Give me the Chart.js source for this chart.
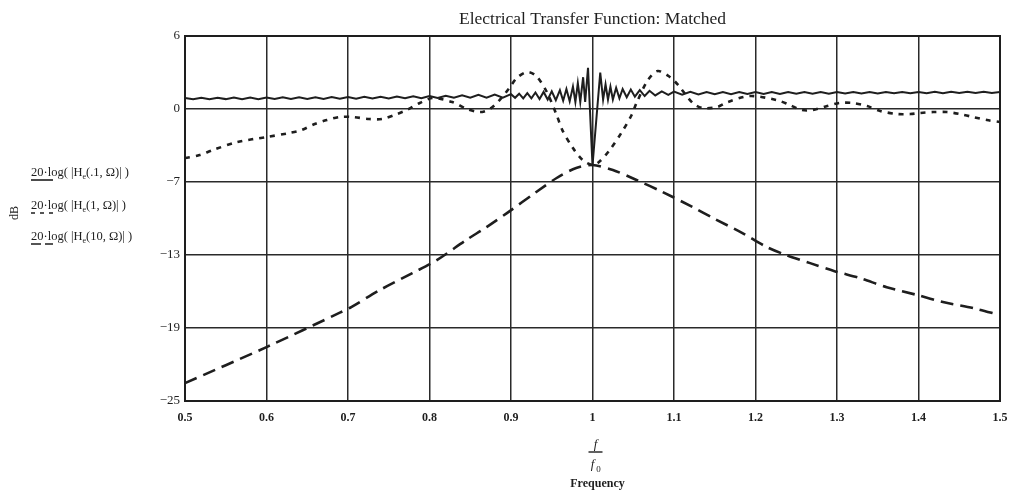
<!DOCTYPE html>
<html>
<head>
<meta charset="utf-8">
<script src="https://cdn.jsdelivr.net/npm/chart.js@4.4.0/dist/chart.umd.min.js"></script>
<style>
  html, body { margin: 0; padding: 0; background: #fff; }
  #wrap { width: 1010px; height: 492px; }
</style>
</head>
<body>
<div id="wrap"><canvas id="grafico"></canvas></div>
<script>
// valores (f/f0, dB)
var xTickValues = [0.5, 0.6, 0.7, 0.8, 0.9, 1.0, 1.1, 1.2, 1.3, 1.4, 1.5];
var xTickLabels = ["0.5", "0.6", "0.7", "0.8", "0.9", "1", "1.1", "1.2", "1.3", "1.4", "1.5"];
var yTickValues = [-25, -18.8, -12.6, -6.4, -0.2, 6];
var yTickLabels = ["\u221225", "\u221219", "\u221213", "\u22127", "0", "6"];

// 20log|He(.1,f)|  - linha cheia
var solidF = [0.50, 0.51, 0.52, 0.53, 0.54, 0.55, 0.56, 0.57, 0.58, 0.59,
  0.60, 0.61, 0.62, 0.63, 0.64, 0.65, 0.66, 0.67, 0.68, 0.69,
  0.70, 0.71, 0.72, 0.73, 0.74, 0.75, 0.76, 0.77, 0.78, 0.79,
  0.80, 0.81, 0.82, 0.83, 0.84, 0.85, 0.86, 0.87, 0.88, 0.89,
  0.90, 0.905, 0.91, 0.915, 0.92, 0.925, 0.93, 0.935, 0.94, 0.945,
  0.95, 0.955, 0.96, 0.964, 0.968, 0.972, 0.976, 0.979, 0.982, 0.985,
  0.9885, 0.991, 0.9945, 1.0, 1.0095, 1.013, 1.016, 1.019, 1.022, 1.025,
  1.029, 1.033, 1.037, 1.042, 1.047, 1.052, 1.058, 1.064, 1.07, 1.077,
  1.085, 1.093, 1.10, 1.11, 1.12, 1.13, 1.14, 1.15, 1.16, 1.17,
  1.18, 1.19, 1.20, 1.21, 1.22, 1.23, 1.24, 1.25, 1.26, 1.27,
  1.28, 1.29, 1.30, 1.31, 1.32, 1.33, 1.34, 1.35, 1.36, 1.37,
  1.38, 1.39, 1.40, 1.41, 1.42, 1.43, 1.44, 1.45, 1.46, 1.47,
  1.48, 1.49, 1.50];
var solidDb = [0.74, 0.62, 0.76, 0.63, 0.76, 0.64, 0.77, 0.63, 0.78, 0.64,
  0.78, 0.65, 0.79, 0.65, 0.79, 0.66, 0.80, 0.66, 0.81, 0.67,
  0.82, 0.68, 0.83, 0.69, 0.84, 0.70, 0.86, 0.71, 0.88, 0.72,
  0.90, 0.74, 0.93, 0.75, 0.96, 0.75, 1.00, 0.76, 1.03, 0.76,
  1.06, 0.75, 1.10, 0.70, 1.15, 0.70, 1.20, 0.65, 1.25, 0.60,
  1.30, 0.55, 1.40, 0.50, 1.50, 0.45, 1.70, 0.40, 2.00, 0.40,
  2.50, 0.40, 3.30, -5.00, 2.90, 0.60, 1.90, 0.60, 1.70, 0.60,
  1.60, 0.70, 1.50, 0.80, 1.45, 0.85, 1.40, 0.90, 1.35, 0.95,
  1.30, 1.00, 1.28, 1.02, 1.26, 1.04, 1.25, 1.05, 1.24, 1.06,
  1.24, 1.07, 1.24, 1.08, 1.24, 1.08, 1.24, 1.09, 1.24, 1.10,
  1.24, 1.10, 1.25, 1.11, 1.25, 1.12, 1.25, 1.12, 1.25, 1.13,
  1.25, 1.13, 1.25, 1.14, 1.26, 1.14, 1.26, 1.15, 1.26, 1.15,
  1.26, 1.16, 1.24];

// 20log|He(1,f)|  - pontilhado
var dottedF = [0.5, 0.518, 0.534, 0.564, 0.6, 0.628, 0.643, 0.659, 0.674, 0.69,
  0.706, 0.726, 0.742, 0.76, 0.772, 0.788, 0.804, 0.828, 0.846, 0.862,
  0.874, 0.886, 0.898, 0.907, 0.92, 0.931, 0.944, 0.956, 0.963, 0.976,
  0.988, 1.0, 1.008, 1.021, 1.036, 1.048, 1.054, 1.068, 1.08, 1.095,
  1.105, 1.123, 1.135, 1.153, 1.166, 1.193, 1.226, 1.242, 1.257, 1.27,
  1.288, 1.303, 1.319, 1.337, 1.353, 1.374, 1.39, 1.402, 1.418, 1.435,
  1.451, 1.467, 1.484, 1.5];
var dottedDb = [-4.37, -4.11, -3.69, -3.01, -2.58, -2.24, -1.99, -1.48, -1.14, -0.88,
  -0.88, -1.05, -1.05, -0.63, -0.29, 0.31, 0.73, 0.39, -0.2, -0.46,
  -0.2, 0.56, 1.58, 2.43, 2.94, 2.6, 1.24, -0.71, -1.99, -3.52,
  -4.54, -4.96, -4.7, -3.69, -2.16, -0.71, 0.31, 2.26, 3.03, 2.52,
  1.84, 0.31, -0.12, -0.03, 0.39, 0.9, 0.56, 0.14, -0.29, -0.29,
  0.05, 0.31, 0.31, 0.05, -0.37, -0.63, -0.63, -0.54, -0.46, -0.46,
  -0.63, -0.88, -1.14, -1.31];

// 20log|He(10,f)|  - tracejado
var dashedF = [0.5, 0.6, 0.69, 0.704, 0.739, 0.779, 0.809, 0.845, 0.87, 0.895,
  0.931, 0.956, 0.98, 1.0, 1.025, 1.054, 1.086, 1.123, 1.148, 1.184,
  1.214, 1.238, 1.267, 1.297, 1.328, 1.361, 1.399, 1.43, 1.467, 1.5];
var dashedDb = [-23.48, -20.42, -17.5, -17.02, -15.58, -14.14, -13.03, -11.33, -10.23, -9.04,
  -7.25, -6.06, -5.21, -4.96, -5.38, -6.23, -7.25, -8.53, -9.46, -10.74,
  -11.93, -12.61, -13.29, -13.97, -14.56, -15.33, -16.01, -16.6, -17.11, -17.7];

function pares(fs, dbs) {
  return fs.map((f, i) => ({ x: f, y: dbs[i] }));
}

var corTraco = "#1e1e1e";
var serif = '"Liberation Serif", "DejaVu Serif", serif';

// textos: titulo, legendas do eixo y e titulo do eixo x, moldura
const textosPlugin = {
  id: "textos",
  afterDraw(chart) {
    const ctx = chart.ctx;
    const area = chart.chartArea;
    ctx.save();
    ctx.fillStyle = corTraco;
    ctx.strokeStyle = corTraco;

    ctx.lineWidth = 2;
    ctx.strokeRect(area.left, area.top, area.right - area.left, area.bottom - area.top);

    ctx.font = "17.5px " + serif;
    ctx.textAlign = "center";
    ctx.textBaseline = "alphabetic";
    ctx.fillText("Electrical Transfer Function: Matched", (area.left + area.right) / 2, 24);

    // legendas
    var legendas = [
      { p: ".1", y: 176, dash: [] },
      { p: "1", y: 209, dash: [4, 5] },
      { p: "10", y: 240, dash: [10, 4] }
    ];
    legendas.forEach((l) => {
      var x = 31;
      ctx.textAlign = "left";
      ctx.font = "12.5px " + serif;
      var a = "20\u00B7log( |H";
      ctx.fillText(a, x, l.y);
      x += ctx.measureText(a).width;
      ctx.font = "8px " + serif;
      ctx.fillText("e", x, l.y + 3);
      x += ctx.measureText("e").width;
      ctx.font = "12.5px " + serif;
      ctx.fillText("(" + l.p + ", \u03A9)| )", x, l.y);
      ctx.lineWidth = 1.6;
      ctx.setLineDash(l.dash);
      ctx.beginPath();
      ctx.moveTo(31, l.y + 4);
      ctx.lineTo(53, l.y + 4);
      ctx.stroke();
      ctx.setLineDash([]);
    });

    ctx.save();
    ctx.translate(18, 213);
    ctx.rotate(-Math.PI / 2);
    ctx.textAlign = "center";
    ctx.font = "12px " + serif;
    ctx.fillText("dB", 0, 0);
    ctx.restore();

    // f / f0
    var cx = chart.scales.x.getPixelForValue(1.0) + 3;
    ctx.textAlign = "center";
    ctx.font = "italic 13px " + serif;
    ctx.fillText("f", cx, 448);
    ctx.lineWidth = 1.4;
    ctx.beginPath();
    ctx.moveTo(cx - 7, 452);
    ctx.lineTo(cx + 7, 452);
    ctx.stroke();
    ctx.fillText("f", cx - 3, 468);
    ctx.font = "9px " + serif;
    ctx.fillText("0", cx + 3, 472);
    ctx.font = "bold 12px " + serif;
    ctx.fillText("Frequency", cx + 2, 487);
    ctx.restore();
  }
};

const ctx = document.getElementById("grafico").getContext("2d");
let grafico = new Chart(ctx, {
  type: "line",
  data: {
    datasets: [
      {
        label: "20log|He(.1,f)|",
        data: pares(solidF, solidDb),
        borderColor: corTraco,
        borderWidth: 2,
        pointRadius: 0,
        tension: 0,
      },
      {
        label: "20log|He(1,f)|",
        data: pares(dottedF, dottedDb),
        borderColor: corTraco,
        borderWidth: 2.6,
        borderDash: [5, 6],
        pointRadius: 0,
        tension: 0.3,
      },
      {
        label: "20log|He(10,f)|",
        data: pares(dashedF, dashedDb),
        borderColor: corTraco,
        borderWidth: 2.6,
        borderDash: [13, 7],
        pointRadius: 0,
        tension: 0.3,
      },
    ],
  },
  options: {
    responsive: true,
    maintainAspectRatio: false,
    animation: false,
    layout: { padding: { left: 0, right: 10, top: 36, bottom: 0 } },
    plugins: {
      legend: { display: false },
      title: { display: false },
      tooltip: { enabled: false },
    },
    scales: {
      x: {
        type: "linear",
        min: 0.5,
        max: 1.5,
        afterBuildTicks: (axis) => { axis.ticks = xTickValues.map((v) => ({ value: v })); },
        afterFit: (axis) => { axis.height = 91; axis.paddingLeft = 0; axis.paddingRight = 0; },
        grid: { color: "#2a2a2a", lineWidth: 1.5, drawTicks: false },
        border: { color: "#222", width: 2 },
        ticks: {
          autoSkip: false,
          maxRotation: 0,
          padding: 10,
          color: corTraco,
          font: { family: serif, size: 12, weight: "bold" },
          callback: (v, i) => xTickLabels[i],
        },
      },
      y: {
        min: -25,
        max: 6,
        afterBuildTicks: (axis) => { axis.ticks = yTickValues.map((v) => ({ value: v })); },
        afterFit: (axis) => { axis.width = 185; axis.paddingTop = 0; axis.paddingBottom = 0; },
        grid: { color: "#2a2a2a", lineWidth: 1.5, drawTicks: false },
        border: { color: "#222", width: 2 },
        ticks: {
          padding: 5,
          color: corTraco,
          font: { family: serif, size: 13 },
          callback: (v, i) => yTickLabels[i],
        },
      },
    },
  },
  plugins: [textosPlugin],
});
</script>
</body>
</html>
